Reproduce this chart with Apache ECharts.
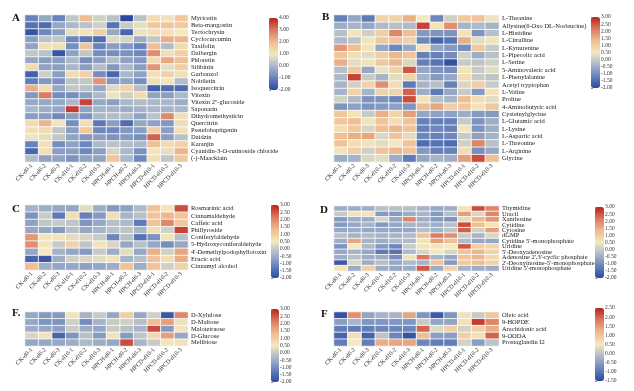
<!DOCTYPE html>
<html><head><meta charset="utf-8">
<script src="https://cdn.jsdelivr.net/npm/echarts/dist/echarts.min.js"></script>
<style>html,body{margin:0;padding:0;background:#fff}#c{width:634px;height:391px}</style>
</head><body><div id="c"></div>
<script>
// ---------- data ----------
const samples = ['CK-d0-1','CK-d0-2','CK-d0-3','CK-d10-1','CK-d10-2','CK-d10-3','HPCH-d0-1','HPCH-d0-2','HPCH-d0-3','HPCD-d10-1','HPCD-d10-2','HPCD-d10-3'];

const A_rows = ['Myricetin','Beta-mangostin','Tectochrysin','Cyclocurcumin','Taxifolin','Dalbergin','Phloretin','Silibinin','Garbanzol','Nobiletin','Isoquercitrin','Vitexin',"Vitexin 2''-glucoside",'Saponarin','Dihydromethysticin','Quercitrin','Pseudobaptigenin','Daidzin','Karanjin','Cyanidin-3-O-rutinoside chloride','(-)-Maackiain'];
const A_vals = [
 [-1,-0.3,-1,0.3,2,0.5,0.2,-2,0.2,1.3,0.9,1.7],
 [-1.3,-1.4,-0.3,0,0.2,0.5,-1.3,0.4,0.8,1.7,1.8,1.7],
 [-1.8,-0.9,-0.5,0.8,1.1,1.6,-0.3,-1.5,0.9,1.2,1.2,1.0],
 [-0.5,0.2,0.3,-0.9,-1.2,-1.4,0.7,0.6,-0.2,0.3,2.2,2.1],
 [-0.4,1.2,1.2,-0.8,1.8,-1.0,-0.5,-0.6,-1.0,1.9,0.1,1.3],
 [0.3,0.2,-1.8,-0.4,0.3,-0.8,-0.8,-0.7,-0.9,2.7,1.2,1.6],
 [-0.3,-0.5,-0.5,0,-0.8,-0.5,0.1,-0.4,-0.6,1.3,2.3,1.9],
 [1.3,-0.4,-0.5,0,-0.5,0.1,-0.6,0,-0.5,2.6,0.8,1.6],
 [-1.6,0.5,-0.5,1.3,1.5,-0.8,-1.5,0,-0.4,1.2,1.5,1.2],
 [-1.1,-0.6,-0.7,0.2,0.3,2.6,-0.6,-0.4,-0.8,1.2,1.1,0.1],
 [2.2,1.3,-0.3,0.3,0.2,-0.3,0.7,1.5,0.1,-1.6,-1.4,-1.4],
 [-0.6,3.0,-0.8,-0.8,-0.5,0,0.9,0.5,1.3,-0.4,-0.5,0],
 [-0.3,-0.3,-0.3,0,3.6,-0.3,-0.5,0,0.1,0,0,-0.2],
 [0,-0.2,-0.3,3.7,-0.4,-0.1,-0.1,-0.2,-0.1,0,-0.1,0],
 [-0.5,-0.5,-0.9,-0.5,-0.7,0,0.1,0.1,-0.4,0.2,2.8,1.2],
 [1.3,2.1,1.1,-0.8,1.2,-1.2,-0.5,-1.4,-0.3,-0.4,-0.6,0.8],
 [1.2,1.3,0.3,-0.5,1.7,-0.9,-0.9,-0.6,-0.5,1.6,-0.5,1.2],
 [0.9,0.8,0.3,-0.4,-0.6,-0.5,-0.7,-0.6,-0.8,3.3,-0.5,0.2],
 [-1.0,1.2,-0.8,-0.4,-0.9,0,0.2,0.1,0,1.9,1.3,1.5],
 [-1.5,1.2,-0.5,-0.5,-0.9,-0.5,0.6,0,-0.7,1.1,0.8,2.1],
 [0.1,-0.4,-0.4,-0.7,-0.4,-0.4,1.8,0,-0.9,1.2,0.3,1.7]
];

const B_rows = ['L-Theanine','Allysine(6-Oxo DL-Norleucine)','L-Histidine','L-Citrulline','L-Kynurenine','L-Pipecolic acid','L-Serine','5-Aminovaleric acid','L-Phenylalanine','Acetyl tryptophan','L-Valine','Proline','4-Aminobutyric acid','Cysteinylglycine','L-Glutamic acid','L-Lysine','L-Aspartic acid','L-Threonine','L-Arginine','Glycine'];
const B_vals = [
 [-1.2,-0.6,-1.3,0.9,0.9,1.5,0.5,-1.1,0.1,1.1,1.2,0.4],
 [-0.5,-0.4,-0.6,-0.3,-0.2,-0.3,2.7,0.6,1.9,-0.4,-0.3,-0.4],
 [-0.2,0.6,0.1,1.0,2.0,1.3,-0.8,-0.9,-0.9,0.6,-0.9,-0.2],
 [-0.3,-0.1,0.6,1.1,1.2,0.9,-1.1,-1.6,-1.4,1.5,0.3,0.6],
 [1.8,1.3,0.6,-0.6,-1.1,-0.6,0.6,-0.6,-0.8,-1.0,1.1,0],
 [1.2,0.7,0.3,1.0,1.4,1.2,-1.2,-1.2,-1.0,0.1,-0.5,-0.2],
 [1.5,0.3,0.6,1.1,1.4,0.2,-1.2,-1.4,-1.9,0,-0.1,0.1],
 [-0.2,1.1,-0.6,0.4,0.9,2.5,-0.6,-0.9,-1.0,0.6,0,0.3],
 [-0.3,2.7,0,-0.4,0.3,0.9,-0.4,-0.8,-0.6,0.7,0,-0.1],
 [-0.4,0.1,0.9,1.9,0.7,-1.3,-0.4,-0.2,-1.2,0.2,1.0,0],
 [-0.4,0.9,-0.4,0.9,0.9,2.4,-0.5,-1.3,-0.6,0,-0.8,0.6],
 [0.1,-0.3,-0.9,-0.9,-1.1,2.6,0.6,-0.2,-0.4,1.3,0.7,0.3],
 [-0.9,-0.7,-0.9,-0.8,-0.7,-0.9,1.3,1.6,1.0,1.1,0.6,1.1],
 [1.1,0.6,0,1.5,0.9,1.7,-0.6,-0.7,-0.7,-0.5,-0.8,-0.8],
 [1.1,1.3,0.6,1.2,0.7,1.2,-1.2,-1.2,-1.2,0,-0.9,-0.5],
 [0.7,1.1,0.2,1.3,1.4,1.2,-1.2,-1.1,-1.2,0.6,-0.9,-0.5],
 [1.3,1.5,1.6,0.2,1.2,0.3,-1.1,-1.2,-1.1,0,-0.7,-0.4],
 [1.2,0.7,0.6,0.3,0.5,1.2,-1.5,-1.4,-1.5,0.1,2.0,-0.2],
 [0.6,1.0,0.1,1.2,1.4,1.2,-0.8,-1.2,-1.2,0.7,-1.0,-0.6],
 [-0.5,-0.4,0.2,0.3,-0.5,-1.3,-0.6,-0.4,-0.5,1.7,2.6,1.3]
];

const C_rows = ['Rosmarinic acid','Cinnamaldehyde','Caffeic acid','Phillyroside','Coniferylaldehyde','5-Hydroxyconiferaldehyde',"4'-Demethylpodophyllotoxin",'Erucic acid','Cinnamyl alcohol'];
const C_vals = [
 [-0.4,-0.5,-0.6,-0.6,0.3,-0.5,-0.8,-0.7,-0.3,1.2,0.6,2.6],
 [-0.9,0,-1.3,0.7,-1.2,-0.8,0.7,-0.4,-0.2,1.2,1.4,1.2],
 [-0.7,-0.1,0,-0.1,-0.9,-0.6,-0.2,-0.3,-1.3,1.2,2.0,1.1],
 [-0.6,-0.6,-0.8,-0.2,-0.6,-0.4,-0.2,-0.1,-0.4,0.7,0.1,2.7],
 [1.8,0.6,0.6,0.3,0.2,0,-1.1,-0.2,-1.4,-0.9,0.6,-0.2],
 [1.9,0.6,0,0.9,-0.1,0.6,0.2,-0.6,-0.2,-0.6,-1.0,-0.6],
 [-0.6,0.5,-0.4,-0.6,-0.8,0,-0.5,0.3,-0.6,1.5,0.1,1.6],
 [-1.6,-1.8,-0.5,0.1,0.2,0.3,0.6,-0.4,-0.2,1.2,0.7,1.5],
 [1.3,-0.5,-0.6,-0.6,-0.7,-0.6,-0.5,1.2,-0.5,1.2,0.1,0.9]
];

const D_rows = ['Thymidine','Uracil','Xanthosine','Cytidine','Cytosine','dGMP',"Cytidine 5'-monophosphate",'Uridine',"5'-Deoxyadenosine","Adenosine 2',3'-cyclic phosphate","2'-Deoxyinosine-5'-monophosphate","Uridine 5'-monophosphate"];
const D_vals = [
 [-0.5,-0.5,-0.5,-0.2,-0.2,-0.2,-0.4,-0.6,-0.5,0.6,2.6,2.0],
 [0,0.6,0.6,-0.8,-0.8,-0.5,-0.4,-0.8,-0.2,1.7,0.2,2.0],
 [-0.8,-0.5,-0.5,0.2,-0.6,2.0,-0.5,-0.8,-0.9,0.3,1.4,1.8],
 [-0.8,-0.6,-0.4,-0.8,-0.6,-0.4,-0.4,-0.5,-0.2,2.6,1.3,0.6],
 [-0.6,-0.5,-0.6,-0.6,-0.6,-0.6,-0.2,-0.4,-0.1,2.4,0.1,1.7],
 [-0.2,-0.4,-0.3,-0.4,-0.4,-0.3,1.2,2.1,1.9,0,-0.4,0.2],
 [-0.5,1.6,-0.4,-0.5,-0.3,-0.3,0.6,1.7,1.3,-0.3,-0.6,-0.6],
 [-0.9,0.5,-0.3,-0.8,-1.1,0,0.6,0.6,0.5,2.5,1.0,0.9],
 [-0.6,-0.4,-0.6,-1.3,-1.4,-0.3,0.2,0.5,0.2,1.2,1.4,0.9],
 [-0.5,-0.2,-0.5,-0.5,-1.0,0.6,2.2,-0.4,-0.6,1.2,1.4,0.8],
 [-1.8,0.2,-0.5,-0.2,-0.6,-0.3,-0.4,1.2,-0.8,1.1,1.3,0.9],
 [0.6,-0.5,1.0,-0.5,-0.6,-0.5,2.5,-0.5,0.9,-0.4,-0.5,-0.5]
];

const E_rows = ['D-Xylulose','D-Maltose','Malotetraose','D-Glucose','Melibiose'];
const E_vals = [
 [-0.6,-0.8,-0.8,0.6,-0.4,0,-0.6,1.0,-0.6,0.1,-1.8,2.0],
 [-0.6,-0.9,-0.9,0.1,-1.0,-0.4,0,0.1,-0.2,1.3,1.7,0.4],
 [-0.5,-0.6,-0.7,0,-0.5,-0.6,0,-0.2,-0.4,2.6,-0.8,0.6],
 [0.2,0.6,-1.6,-0.9,-0.2,-0.8,0.6,-0.8,-0.1,0.8,1.7,-0.6],
 [-0.6,-0.6,-0.6,-0.5,-0.3,-0.5,-0.6,2.6,-0.4,0,0.6,0.6]
];

const F_rows = ['Oleic acid','9-HOPDE','Arachidonic acid','9-OODA','Prostaglandin I2'];
const F_vals = [
 [-1.4,1.6,-0.4,-0.2,-0.2,1.4,-0.6,-1.3,-0.6,0.6,0.1,1.0],
 [-0.5,-0.2,-0.6,-0.6,-0.6,-0.6,0.1,-0.4,-0.4,0.6,2.3,1.7],
 [-0.9,-0.9,-0.9,-0.8,-0.8,-0.8,2.0,0.3,0.9,0.2,0.9,1.3],
 [-1.2,0.6,-1.2,0,-0.8,-1.4,1.1,-0.5,-0.5,0.9,0.6,2.0],
 [-0.9,0.5,-0.9,1.3,1.4,1.4,-0.8,-0.9,-0.9,0.2,-0.5,0]
];

// colour-scale ranges [min, max, tick step]
const A_scale = [-2, 4, 1];
const B_scale = [-2, 3, 0.5];
const C_scale = [-2, 3, 0.5];
const D_scale = [-2, 3, 0.5];
const E_scale = [-2, 3, 0.5];
const F_scale = [-1.5, 2.5, 0.5];
const panelLetters = ['A','B','C','D','F.','F'];

// ---------- layout ----------
const palette = ['#2a4a9f','#6883bb','#abb8c9','#f3e8bf','#efbc91','#db7a5f','#b8221f'];
const FONT = 'Liberation Serif';
const panels = [
 {rows:A_rows, vals:A_vals, sc:A_scale, g:{left:25,top:15,width:163,height:147}, bar:{left:269,top:18,w:9,h:72}, L:{x:12,y:13}},
 {rows:B_rows, vals:B_vals, sc:B_scale, g:{left:334,top:15,width:165,height:147}, bar:{left:591,top:17,w:9,h:71}, L:{x:322,y:12}},
 {rows:C_rows, vals:C_vals, sc:C_scale, g:{left:25,top:205,width:163,height:65}, bar:{left:271,top:205,w:8,h:73}, L:{x:12,y:204}},
 {rows:D_rows, vals:D_vals, sc:D_scale, g:{left:334,top:206,width:165,height:65}, bar:{left:595,top:207,w:9,h:71}, L:{x:320,y:205}},
 {rows:E_rows, vals:E_vals, sc:E_scale, g:{left:25,top:312,width:163,height:34}, bar:{left:271,top:309,w:8,h:73}, L:{x:12,y:308}},
 {rows:F_rows, vals:F_vals, sc:F_scale, g:{left:334,top:312,width:165,height:34}, bar:{left:595,top:308,w:9,h:73}, L:{x:321,y:309}}
];

const grid=[], xAxis=[], yAxis=[], series=[], visualMap=[], graphic=[];
panels.forEach((p,i)=>{
  grid.push(Object.assign({outerBoundsMode:'none', containLabel:false}, p.g));
  xAxis.push({type:'category', gridIndex:i, data:samples, position:'bottom',
    axisLine:{show:false}, axisTick:{show:false}, splitLine:{show:false},
    axisLabel:{interval:0, rotate:45, fontSize:6, margin:3, color:'#333', fontFamily:FONT}});
  yAxis.push({type:'category', gridIndex:i, data:p.rows, inverse:true, position:'right',
    axisLine:{show:false}, axisTick:{show:false}, splitLine:{show:false},
    axisLabel:{interval:0, fontSize:6.5, margin:3, color:'#1a1a1a', fontFamily:FONT}});
  const data=[];
  p.vals.forEach((row,r)=>row.forEach((v,c)=>data.push([c,r,v])));
  series.push({type:'heatmap', xAxisIndex:i, yAxisIndex:i, data,
    itemStyle:{borderColor:'#ffffff', borderWidth:0.8}, emphasis:{disabled:true}, silent:true});
  visualMap.push({type:'continuous', seriesIndex:i, min:p.sc[0], max:p.sc[1],
    inRange:{color:palette}, left:p.bar.left, top:p.bar.top, itemWidth:p.bar.w, itemHeight:p.bar.h,
    calculable:false, padding:0, hoverLink:false, text:null, orient:'vertical'});
  graphic.push({type:'text', left:p.L.x, top:p.L.y,
    style:{text:panelLetters[i], font:'bold 11px "'+FONT+'"', fill:'#111'}});
});
// colour-bar tick axes
panels.forEach((p,i)=>{
  const gi = grid.length;
  grid.push({left:p.bar.left, top:p.bar.top, width:p.bar.w, height:p.bar.h, outerBoundsMode:'none', containLabel:false});
  xAxis.push({type:'value', gridIndex:gi, show:false, min:0, max:1});
  yAxis.push({type:'value', gridIndex:gi, min:p.sc[0], max:p.sc[1], interval:p.sc[2], position:'right',
    axisLine:{show:false}, splitLine:{show:false},
    axisTick:{show:true, length:2, lineStyle:{color:'#444', width:0.6}},
    axisLabel:{fontSize:5.5, margin:1, color:'#333', fontFamily:FONT, formatter:v=>v.toFixed(2)}});
});

const chart = echarts.init(document.getElementById('c'), null, {renderer:'canvas'});
chart.setOption({animation:false, backgroundColor:'#fff', grid, xAxis, yAxis, series, visualMap, graphic});
</script></body></html>
